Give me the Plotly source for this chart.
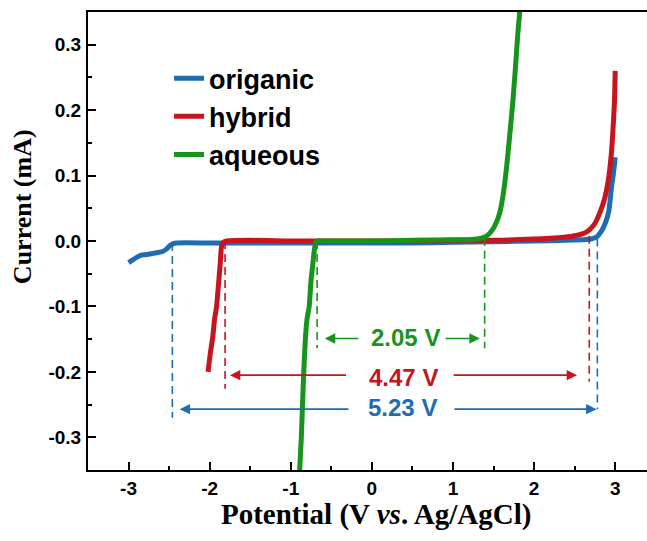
import plotly.graph_objects as go

# ---------------- data ----------------
organic_x = [-3.0, -2.95, -2.9, -2.85, -2.8, -2.74, -2.66, -2.58, -2.53, -2.49, -2.45, -2.4, -2.0, -1.5, -1.0, -0.5, 0.0, 0.5, 1.0, 1.5, 2.0, 2.4, 2.6, 2.7, 2.77, 2.83, 2.88, 2.92, 2.955, 2.98, 3.0]
organic_y = [-0.033, -0.029, -0.025, -0.022, -0.021, -0.020, -0.018, -0.016, -0.012, -0.007, -0.004, -0.003, -0.003, -0.003, -0.003, -0.003, -0.003, -0.003, -0.002, -0.001, 0.0, 0.001, 0.002, 0.003, 0.006, 0.015, 0.028, 0.045, 0.083, 0.105, 0.128]

hybrid_x = [-2.02, -1.99, -1.96, -1.94, -1.915, -1.89, -1.87, -1.853, -1.83, -1.79, -1.5, -1.0, -0.5, 0.0, 0.5, 1.0, 1.5, 2.0, 2.3, 2.5, 2.65, 2.74, 2.81, 2.87, 2.91, 2.95, 2.97, 2.99, 3.0]
hybrid_y = [-0.2, -0.17, -0.145, -0.12, -0.1, -0.065, -0.035, -0.008, -0.002, 0.0, 0.001, 0.0, 0.0, 0.0, 0.0, 0.001, 0.001, 0.003, 0.005, 0.008, 0.014, 0.025, 0.043, 0.065, 0.089, 0.13, 0.165, 0.21, 0.26]

aqueous_x = [-0.89, -0.87, -0.855, -0.84, -0.82, -0.80, -0.773, -0.75, -0.727, -0.705, -0.68, -0.6, -0.3, 0.0, 0.5, 1.0, 1.2, 1.3, 1.37, 1.42, 1.46, 1.5, 1.54, 1.58, 1.62, 1.66, 1.70, 1.74, 1.77, 1.80, 1.83]
aqueous_y = [-0.35, -0.3, -0.25, -0.2, -0.15, -0.12, -0.1, -0.06, -0.034, -0.01, 0.0, 0.0, 0.0, 0.0, 0.001, 0.002, 0.002, 0.003, 0.005, 0.008, 0.013, 0.02, 0.03, 0.045, 0.072, 0.112, 0.162, 0.216, 0.265, 0.318, 0.36]

series_names = ["origanic", "hybrid", "aqueous"]
series_colors = ["#1f6db1", "#c8141e", "#16941c"]

# electrochemical window (V): boundaries, width labels
window_left = [-2.46, -1.81, -0.675]
window_right = [2.78, 2.68, 1.39]
window_top_left = [-0.003, 0.0, 0.0]
window_top_right = [0.004, 0.008, 0.005]
window_bottom = [-0.27, -0.226, -0.164]
window_bottom_right = [-0.257, -0.215, -0.164]
window_labels = ["5.23 V", "4.47 V", "2.05 V"]
arrow_y = [-0.257, -0.205, -0.149]
arrow_left_tail = [-0.27, -0.30, -0.148]
arrow_left_head = [-2.37, -1.75, -0.58]
arrow_right_tail = [1.0, 0.99, 0.89]
arrow_right_head = [2.77, 2.53, 1.33]
label_x = [0.38, 0.39, 0.41]
label_y = [-0.254, -0.209, -0.148]
window_colors = ["#1f6db1", "#c8141e", "#16941c"]

x_ticks = [-3, -2, -1, 0, 1, 2, 3]
y_ticks = [-0.3, -0.2, -0.1, 0.0, 0.1, 0.2, 0.3]

# ---------------- figure ----------------
fig = go.Figure()
for xs, ys, name, col in zip([organic_x, hybrid_x, aqueous_x],
                             [organic_y, hybrid_y, aqueous_y],
                             series_names, series_colors):
    fig.add_trace(go.Scatter(x=xs, y=ys, mode="lines", name="<b>" + name + "</b>",
                             line=dict(color=col, width=5, shape="spline", smoothing=0.6)))

for i in range(3):
    col = window_colors[i]
    fig.add_shape(type="line", x0=window_left[i], x1=window_left[i],
                  y0=window_top_left[i], y1=window_bottom[i],
                  line=dict(color=col, width=1.6, dash="8px,5px"))
    fig.add_shape(type="line", x0=window_right[i], x1=window_right[i],
                  y0=window_top_right[i], y1=window_bottom_right[i],
                  line=dict(color=col, width=1.6, dash="8px,5px"))
    for tail, head in [(arrow_left_tail[i], arrow_left_head[i]),
                       (arrow_right_tail[i], arrow_right_head[i])]:
        fig.add_annotation(x=head, y=arrow_y[i], ax=tail, ay=arrow_y[i],
                           xref="x", yref="y", axref="x", ayref="y",
                           text="", showarrow=True, arrowhead=2,
                           arrowsize=1.3, arrowwidth=1.6, arrowcolor=col)
    fig.add_annotation(x=label_x[i], y=label_y[i], xref="x", yref="y",
                       text="<b>" + window_labels[i] + "</b>", showarrow=False,
                       font=dict(family="Arial, Liberation Sans", size=24, color=col))

# axis titles
fig.add_annotation(x=-0.118, y=0.574, xref="paper", yref="paper",
                   xanchor="center", yanchor="middle",
                   text="<b>Current (mA)</b>", textangle=-90, showarrow=False,
                   font=dict(family="Times New Roman, Liberation Serif", size=26, color="black"))
fig.add_annotation(x=0.515, y=-0.098, xref="paper", yref="paper",
                   xanchor="center", yanchor="middle",
                   text="<b>Potential (V <i>vs</i>. Ag/AgCl)</b>", showarrow=False,
                   font=dict(family="Times New Roman, Liberation Serif", size=29, color="black"))

tickfont = dict(family="Arial, Liberation Sans", size=19, color="black")
fig.update_xaxes(range=[-3.5, 3.392], tickvals=x_ticks,
                 ticktext=["<b>%g</b>" % v for v in x_ticks],
                 ticks="inside", ticklen=8, tickwidth=1.6, tickcolor="black",
                 minor=dict(ticks="inside", ticklen=4, dtick=0.5, tick0=0, tickwidth=1.6, tickcolor="black"),
                 showline=True, linecolor="black", linewidth=2, mirror=True,
                 showgrid=False, zeroline=False, tickfont=tickfont)
fig.update_yaxes(range=[-0.35, 0.35], tickvals=y_ticks,
                 ticktext=["<b>%.1f</b>" % v for v in y_ticks],
                 ticks="inside", ticklen=8, tickwidth=1.6, tickcolor="black",
                 minor=dict(ticks="inside", ticklen=4, dtick=0.05, tick0=0, tickwidth=1.6, tickcolor="black"),
                 showline=True, linecolor="black", linewidth=2, mirror=False,
                 showgrid=False, zeroline=False, tickfont=tickfont, ticklabelstandoff=1)

fig.update_layout(
    width=647, height=541,
    margin=dict(l=88, r=0, t=12, b=71),
    plot_bgcolor="white", paper_bgcolor="white",
    legend=dict(x=0.145, y=0.908, xanchor="left", yanchor="top",
                bgcolor="rgba(0,0,0,0)",
                font=dict(family="Arial, Liberation Sans", size=27, color="black"),
                itemwidth=30),
    showlegend=True,
)
fig.write_html("out.html")
